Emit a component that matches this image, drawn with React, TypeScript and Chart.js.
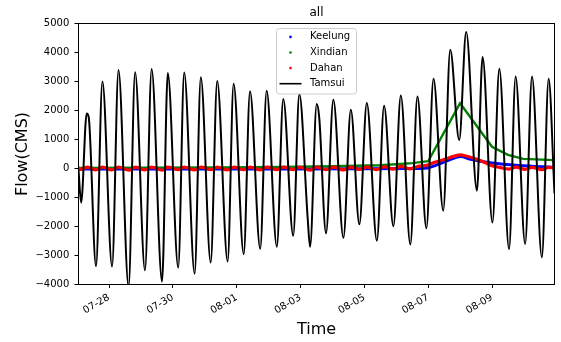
import React, { useEffect, useRef } from 'react';
import { Chart, registerables } from 'chart.js';

Chart.register(...registerables);

// ---- Data ----
const tamsuiTimes = [
  '07-27 01:00', '07-27 03:00', '07-27 07:10', '07-27 08:40', '07-27 14:10', '07-27 19:00',
  '07-28 02:15', '07-28 07:05', '07-28 14:40', '07-28 19:35',
  '07-29 03:00', '07-29 08:00', '07-29 15:50', '07-29 20:10',
  '07-30 04:00', '07-30 08:30', '07-30 16:20', '07-30 21:00',
  '07-31 04:25', '07-31 09:20', '07-31 17:10', '07-31 21:40',
  '08-01 05:15', '08-01 10:00', '08-01 17:40', '08-01 22:30',
  '08-02 06:10', '08-02 11:00', '08-02 18:30', '08-02 23:05',
  '08-03 05:25', '08-03 07:10', '08-03 12:10', '08-03 14:05', '08-03 19:10',
  '08-04 00:40', '08-04 08:15', '08-04 13:50', '08-04 20:15',
  '08-05 01:50', '08-05 09:25', '08-05 14:50', '08-05 21:50',
  '08-06 03:25', '08-06 10:35', '08-06 15:55', '08-06 22:40',
  '08-07 04:00', '08-07 11:20', '08-07 16:35', '08-07 23:20',
  '08-08 04:35', '08-08 12:40', '08-08 16:55',
  '08-09 00:20', '08-09 05:30', '08-09 12:50', '08-09 17:45',
  '08-10 00:55', '08-10 06:05', '08-10 13:30', '08-10 18:35', '08-10 23:00',
];
const tamsuiFlow = [
  -50, -1180, 1900, 1780, -3370, 3000,
  -3380, 3400, -4080, 3320,
  -3510, 3430, -3900, 3290,
  -3420, 3310, -3625, 3150,
  -3240, 3020, -3207, 2920,
  -2953, 2666, -2770, 2677,
  -2695, 2393, -2316, 2566,
  -1750, -2700, 2221, 1740, -2235,
  2370, -2390, 2025, -1925,
  2256, -2488, 2163, -1990,
  2520, -2620, 2484, -2057,
  3095, -1453, 4095, 980,
  4705, -763, 3843,
  -1862, 3440, -2780, 3174,
  -2603, 3174, -3063, 3095, -860,
];

const keelungTimes = [
  '07-27 01:00', '07-30 00:00', '08-02 00:00', '08-05 00:00', '08-06 12:00', '08-06 23:00',
  '08-07 07:30', '08-07 16:00', '08-08 00:30', '08-08 07:00', '08-09 00:00', '08-09 20:00', '08-10 23:00',
];
const keelungFlow = [-20, -20, -15, -10, 0, 20, 140, 300, 410, 330, 190, 105, 45];

const xindianTimes = [
  '07-27 01:00', '07-29 00:00', '07-31 12:00', '08-02 12:00', '08-04 00:00', '08-05 12:00',
  '08-06 12:00', '08-07 00:00', '08-08 00:00', '08-09 00:00', '08-09 12:00', '08-09 23:30', '08-10 23:00',
];
const xindianFlow = [20, 30, 40, 55, 80, 110, 185, 250, 2250, 750, 470, 330, 290];

const dahanTimes = [
  '07-27 01:00', '07-27 03:00', '07-27 08:00', '07-27 14:00', '07-27 19:00',
  '07-28 02:00', '07-28 07:00', '07-28 15:00', '07-28 20:00',
  '07-29 03:00', '07-29 08:00', '07-29 16:00', '07-29 20:00',
  '07-30 04:00', '07-30 08:30', '07-30 16:30', '07-30 21:00',
  '07-31 04:30', '07-31 09:30', '07-31 17:00', '07-31 22:00',
  '08-01 05:00', '08-01 10:00', '08-01 18:00', '08-01 22:30',
  '08-02 06:00', '08-02 11:00', '08-02 18:30', '08-02 23:00',
  '08-03 07:00', '08-03 12:00', '08-03 19:00', '08-04 01:00',
  '08-04 08:00', '08-04 14:00', '08-04 20:00', '08-05 02:00',
  '08-05 09:00', '08-05 15:00', '08-05 22:00', '08-06 03:30',
  '08-06 10:30', '08-06 16:00', '08-06 23:00', '08-07 04:00',
  '08-07 11:00', '08-07 16:30', '08-08 00:00', '08-08 04:30',
  '08-08 12:30', '08-08 17:00', '08-09 00:30', '08-09 05:30',
  '08-09 13:00', '08-09 18:00', '08-10 01:00', '08-10 06:00',
  '08-10 13:30', '08-10 18:30', '08-10 23:00',
];
const dahanFlow = [
  20, -30, 50, -50, 50,
  -50, 50, -60, 50,
  -50, 50, -60, 50,
  -40, 50, -50, 50,
  -40, 50, -50, 50,
  -40, 50, -50, 50,
  -40, 50, -40, 50,
  -60, 50, -40, 50,
  -50, 50, -30, 50,
  -40, 60, -20, 70,
  -10, 70, 110, 200,
  290, 380, 470, 430,
  320, 240, 90, 40,
  -20, 50, -30, 40,
  -40, 40, 20,
];

const xTickLabels = ['07-28', '07-30', '08-01', '08-03', '08-05', '08-07', '08-09'];
const xRange = ['07-27 01:00', '08-10 23:00'];
const yMin = -4000;
const yMax = 5000;
const yStep = 1000;

const seriesNames = ['Keelung', 'Xindian', 'Dahan', 'Tamsui'];
const seriesColors = ['#0000ff', '#008000', '#ff0000', '#000000'];

function toHours(s: string): number {
  const [md, hm] = s.split(' ');
  const [m, d] = md.split('-').map(Number);
  const [hh, mm] = (hm || '00:00').split(':').map(Number);
  const dayIndex = m === 7 ? d - 27 : d + 4;
  return dayIndex * 24 + hh + mm / 60;
}

function pts(times: string[], vals: number[]) {
  return times.map((t, i) => ({ x: toHours(t), y: vals[i] }));
}

const xTickValues = xTickLabels.map((l) => toHours(l + ' 00:00'));

const FONT = "'DejaVu Sans', sans-serif";

const framePlugin = {
  id: 'frameBox',
  afterDatasetsDraw(chart: any) {
    const { ctx, chartArea: a } = chart;
    ctx.save();
    ctx.strokeStyle = '#000';
    ctx.lineWidth = 1;
    ctx.strokeRect(a.left, a.top, a.right - a.left, a.bottom - a.top);
    ctx.restore();
  },
};

const legendPlugin = {
  id: 'mplLegend',
  afterDraw(chart: any) {
    const { ctx } = chart;
    const bx = 276.5, by = 28.5, bw = 80, bh = 65.5, r = 3;
    ctx.save();
    ctx.beginPath();
    ctx.moveTo(bx + r, by);
    ctx.lineTo(bx + bw - r, by);
    ctx.arcTo(bx + bw, by, bx + bw, by + r, r);
    ctx.lineTo(bx + bw, by + bh - r);
    ctx.arcTo(bx + bw, by + bh, bx + bw - r, by + bh, r);
    ctx.lineTo(bx + r, by + bh);
    ctx.arcTo(bx, by + bh, bx, by + bh - r, r);
    ctx.lineTo(bx, by + r);
    ctx.arcTo(bx, by, bx + r, by, r);
    ctx.closePath();
    ctx.fillStyle = 'rgba(255,255,255,0.8)';
    ctx.fill();
    ctx.strokeStyle = '#cccccc';
    ctx.lineWidth = 1;
    ctx.stroke();
    ctx.font = `10px ${FONT}`;
    ctx.textBaseline = 'middle';
    ctx.textAlign = 'left';
    seriesNames.forEach((name, i) => {
      const y = 36.9 + i * 15.6;
      if (i < 3) {
        ctx.beginPath();
        ctx.arc(290.5, y, 1.3, 0, Math.PI * 2);
        ctx.fillStyle = seriesColors[i];
        ctx.fill();
      } else {
        ctx.beginPath();
        ctx.moveTo(279.5, y);
        ctx.lineTo(301.5, y);
        ctx.strokeStyle = seriesColors[i];
        ctx.lineWidth = 1.6;
        ctx.stroke();
      }
      ctx.fillStyle = '#000';
      ctx.fillText(name, 310, y);
    });
    ctx.restore();
  },
};

export default function App() {
  const canvasRef = useRef<HTMLCanvasElement | null>(null);

  useEffect(() => {
    if (!canvasRef.current) return;
    const chart = new Chart(canvasRef.current, {
      type: 'line',
      data: {
        datasets: [
          {
            label: seriesNames[0],
            data: pts(keelungTimes, keelungFlow),
            borderColor: seriesColors[0],
            backgroundColor: seriesColors[0],
            borderWidth: 3,
            pointRadius: 0,
            cubicInterpolationMode: 'monotone',
            order: 3,
            clip: 0,
          },
          {
            label: seriesNames[1],
            data: pts(xindianTimes, xindianFlow),
            borderColor: seriesColors[1],
            backgroundColor: seriesColors[1],
            borderWidth: 2.4,
            pointRadius: 0,
            tension: 0,
            order: 2,
            clip: 0,
          },
          {
            label: seriesNames[2],
            data: pts(dahanTimes, dahanFlow),
            borderColor: seriesColors[2],
            backgroundColor: seriesColors[2],
            borderWidth: 3.2,
            pointRadius: 0,
            cubicInterpolationMode: 'monotone',
            order: 1,
            clip: 0,
          },
          {
            label: seriesNames[3],
            data: pts(tamsuiTimes, tamsuiFlow),
            borderColor: seriesColors[3],
            backgroundColor: seriesColors[3],
            borderWidth: 2,
            pointRadius: 0,
            cubicInterpolationMode: 'monotone',
            order: 0,
            clip: 0,
          },
        ],
      } as any,
      options: {
        animation: false,
        responsive: false,
        maintainAspectRatio: false,
        devicePixelRatio: 1,
        layout: { padding: { left: 0, right: 6.5, top: 0, bottom: 0 } },
        plugins: {
          legend: { display: false },
          tooltip: { enabled: false },
          title: {
            display: true,
            text: 'all',
            color: '#000',
            fullSize: false,
            font: { family: FONT, size: 12, weight: 'normal' },
            padding: { top: 5.3, bottom: 3.8 },
          },
        },
        scales: {
          x: {
            type: 'linear',
            min: toHours(xRange[0]),
            max: toHours(xRange[1]),
            afterBuildTicks: (axis: any) => {
              axis.ticks = xTickValues.map((v) => ({ value: v }));
            },
            afterFit: (scale: any) => {
              scale.height = 57.5;
            },
            ticks: {
              autoSkip: false,
              maxRotation: 30,
              minRotation: 30,
              padding: 3.7,
              color: '#000',
              font: { family: FONT, size: 10 },
              callback: (v: any) => {
                const i = xTickValues.indexOf(Number(v));
                return i >= 0 ? xTickLabels[i] : '';
              },
            },
            grid: {
              drawOnChartArea: false,
              drawTicks: true,
              tickLength: 3.5,
              tickColor: '#000',
              tickWidth: 1,
            },
            border: { display: false },
            title: {
              display: true,
              text: 'Time',
              color: '#000',
              font: { family: FONT, size: 16 },
              padding: { top: 0, bottom: 2.9 },
            },
          },
          y: {
            type: 'linear',
            min: yMin,
            max: yMax,
            afterFit: (scale: any) => {
              scale.width = 78.5;
            },
            ticks: {
              stepSize: yStep,
              padding: 5.2,
              color: '#000',
              font: { family: FONT, size: 10 },
              callback: (v: any) => {
                const n = Number(v);
                return n < 0 ? '\u2212' + Math.abs(n) : String(n);
              },
            },
            grid: {
              drawOnChartArea: false,
              drawTicks: true,
              tickLength: 4,
              tickColor: '#000',
              tickWidth: 1,
            },
            border: { display: false },
            title: {
              display: true,
              text: 'Flow(CMS)',
              color: '#000',
              font: { family: FONT, size: 16 },
              padding: { top: 13.2, bottom: 0 },
            },
          },
        },
      } as any,
      plugins: [framePlugin, legendPlugin],
    });
    return () => chart.destroy();
  }, []);

  return (
    <div style={{ position: 'fixed', left: 0, top: 0, width: 561, height: 342, background: '#fff' }}>
      <canvas ref={canvasRef} width={561} height={342} style={{ display: 'block' }} />
    </div>
  );
}
